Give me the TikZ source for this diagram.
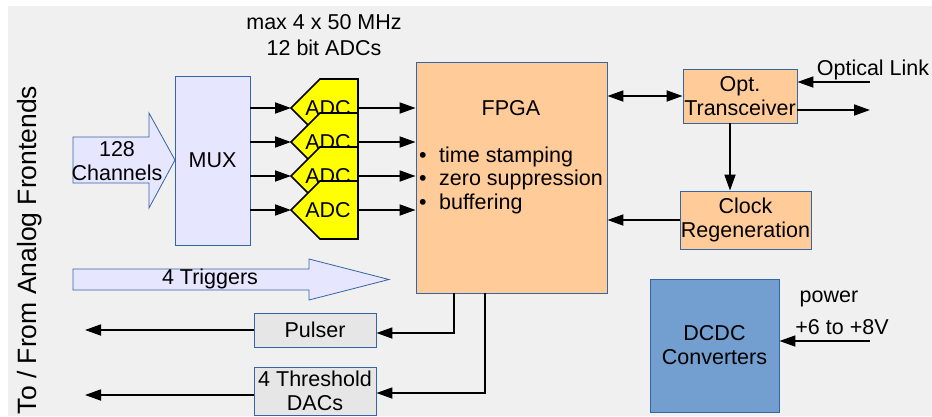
\documentclass[tikz,border=0pt]{standalone}
\usepackage{fontspec}
\setmainfont{Liberation Sans}
\usetikzlibrary{arrows.meta}

\definecolor{bggray}{HTML}{F0F0F0}
\definecolor{edgeblue}{HTML}{3465A4}
\definecolor{muxfill}{HTML}{E6E6FF}
\definecolor{fpgafill}{HTML}{FFCC99}
\definecolor{dcdcfill}{HTML}{729FCF}
\definecolor{pulsefill}{HTML}{E6E6E6}
\definecolor{adcyellow}{HTML}{FFFF00}

\newcommand{\fitem}[1]{\makebox[20pt][l]{\textbullet}#1}

\tikzset{
	txt/.style={font=\fontsize{21.5}{24}\selectfont, align=center, inner sep=0pt},
	block/.style={txt, draw=edgeblue, line width=0.9pt},
	sig/.style={line width=1.8pt, -{Triangle[length=16pt,width=11pt]}},
	dsig/.style={line width=1.8pt, {Triangle[length=16pt,width=11pt]}-{Triangle[length=16pt,width=11pt]}},
	adcshape/.style={draw=black, line width=1.6pt, fill=adcyellow, line join=miter},
	bigarrow/.style={draw=edgeblue, line width=0.8pt, fill=muxfill}
}

\begin{document}
\begin{tikzpicture}[x=1pt,y=-1pt]
			\useasboundingbox (0,0) rectangle (932,416);
			% background
			\fill[bggray] (8,6) rectangle (932,416);

			% side and top labels
			\node (frontends) [txt, font=\fontsize{26.5}{28}\selectfont, rotate=90] at (30,250) {To / From Analog Frontends};
			\node (adclabel) [txt, font=\fontsize{21.5}{26}\selectfont] at (324,35) {max 4 x 50 MHz\\12 bit ADCs};

			% main blocks
			\node (mux) [block, fill=muxfill, minimum width=75, minimum height=169] at (212.5,160.5) {MUX};
			\node (fpga) [block, fill=fpgafill, minimum width=191, minimum height=231] at (511.5,177.5) {};
			\node (fpganame) [txt] at (511,108) {FPGA};
			\node (fpgatasks) [txt, align=left, anchor=west, font=\fontsize{21.5}{23.5}\selectfont] at (419,180)
				{\fitem{time stamping}\\\fitem{zero suppression}\\\fitem{buffering}};
			\node (opt) [block, fill=fpgafill, minimum width=114, minimum height=54] at (740,96) {Opt.\\Transceiver};
			\node (clk) [block, fill=fpgafill, minimum width=131, minimum height=58] at (745.5,220) {Clock\\Regeneration};
			\node (pulser) [block, fill=pulsefill, minimum width=122, minimum height=34] at (315,330) {Pulser};
			\node (dacs) [block, fill=pulsefill, minimum width=122, minimum height=48] at (315,391) {4 Threshold\\DACs};
			\node (dcdc) [block, fill=dcdcfill, minimum width=129, minimum height=133] at (714.5,345.5) {DCDC\\Converters};

			% input arrows
			\draw[bigarrow]	(73,137) -- (149,137) -- (149,113) -- (175,160)
					-- (149,208) -- (149,183) -- (73,183) -- cycle;
			\node (chan) [txt] at (117,161) {128\\Channels};
			\draw[bigarrow]	(73,269) -- (309,269) -- (309,259) -- (389,279.5)
					-- (309,300) -- (309,290) -- (73,290) -- cycle;
			\node (trig) [txt] at (210,279) {4 Triggers};

			% ADCs
			\foreach \i/\t in {1/79,2/113,3/147,4/181}{
				\draw[adcshape] (320,\t) -- (358,\t) -- (358,\t+58) -- (320,\t+58) -- (291,\t+29) -- cycle;
				\node (adc\i) [txt] at (328,\t+29) {ADC};
				\coordinate (adcin\i) at (291,\t+29);
				\coordinate (adcout\i) at (358,\t+29);
			}
			\foreach \i in {1,...,4}{
				\draw[sig] (adcin\i -| mux.east) -- (adcin\i);
				\draw[sig] (adcout\i) -- (adcout\i -| fpga.west);
			}

			% optical link and clock
			\coordinate (olin) at (870,82);
			\coordinate (olout) at (870,110);
			\node (ollabel) [txt] at (873,70) {Optical Link};
			\draw[dsig] (fpga.east |- opt.west) -- (opt.west);
			\draw[sig] (olin) -- (olin -| opt.east);
			\draw[sig] (olout -| opt.east) -- (olout);
			\draw[sig] ([xshift=-10pt]opt.south) -- ([xshift=-10pt]opt.south |- clk.north);
			\draw[sig] (clk.west) -- (clk.west -| fpga.east);

			% pulser and threshold DACs
			\coordinate (pulout) at (85,330);
			\coordinate (dacout) at (85,395);
			\draw[sig] ([xshift=-57.5pt]fpga.south) |- ([yshift=-3pt]pulser.east);
			\draw[sig] ([xshift=-26.5pt]fpga.south) |- ([yshift=-2pt]dacs.east);
			\draw[sig] (pulser.west) -- (pulout);
			\draw[sig] (dacout -| dacs.west) -- (dacout);

			% power
			\coordinate (pwr) at (870,341);
			\node (pwrlabel) [txt] at (829,299) {power};
			\node (voltlabel) [txt] at (842,327) {+6 to +8V};
			\draw[sig] (pwr) -- (pwr -| dcdc.east);
\end{tikzpicture}
\end{document}
